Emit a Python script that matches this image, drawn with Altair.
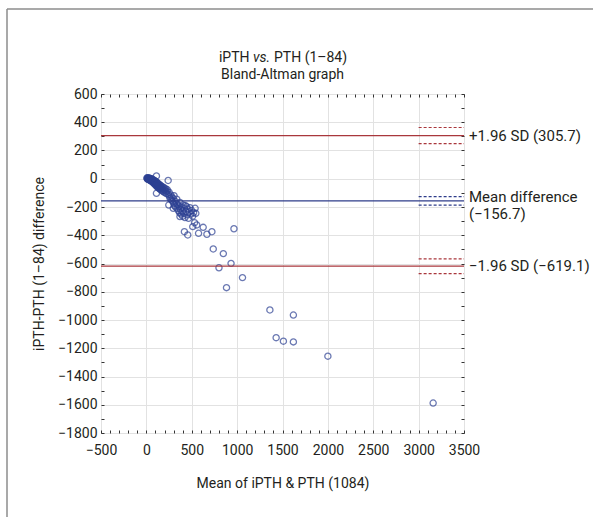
import altair as alt
import pandas as pd

# ---------------- data ----------------
mean_vals = [5, 10, 12, 15, 18, 20, 22, 25, 28, 30, 32, 35, 38, 40, 42, 45, 48, 50, 52, 55,
             58, 60, 62, 65, 68, 70, 72, 75, 78, 80, 82, 85, 88, 90, 92, 95, 98, 100, 102, 105,
             108, 110, 112, 115, 118, 120, 122, 125, 128, 130, 133, 136, 140, 143, 146, 150, 153, 156, 160, 164,
             168, 172, 176, 180, 185, 190, 195, 200, 205, 210, 215, 220, 226, 232,
             111, 240, 111, 247,
             240, 250, 255, 262, 270, 275, 282, 290, 296, 300, 305, 310, 318, 322, 330, 335, 340, 348, 352, 360,
             366, 370, 375, 382, 388, 395, 400, 405, 412, 418, 425, 430, 438, 444, 450, 458, 465, 470, 480, 490,
             500, 510, 520, 537, 545, 296, 370,
             419, 456, 511, 531, 555, 575, 626, 667, 722, 965, 737, 848, 933, 800, 1059, 883, 1361, 1430, 1510, 1620,
             1620, 2000, 3160]
diff_vals = [5, 3, -2, 8, 0, -5, 4, -3, 2, -8, 6, -4, -10, 2, -6, -12, -2, -15, -8, 0,
             -18, -10, -4, -20, -14, -6, -25, -16, -8, -30, -20, -12, -35, -24, -15, -40, -28, -18, -45, -32,
             -22, -50, -38, -26, -55, -42, -30, -60, -46, -35, -64, -52, -40, -70, -56, -45, -75, -62, -50, -80,
             -66, -55, -86, -72, -60, -92, -78, -66, -98, -84, -72, -105, -90, -78,
             20, -12, -103, -186,
             -110, -95, -125, -140, -115, -150, -130, -160, -140, -175, -120, -190, -160, -200, -175, -145, -210, -185, -225, -195,
             -240, -168, -215, -250, -200, -230, -265, -185, -245, -210, -275, -190, -230, -198, -255, -215, -280, -235, -205, -250,
             -225, -265, -240, -209, -245, -209, -268,
             -375, -398, -339, -311, -327, -386, -344, -393, -375, -354, -497, -530, -599, -630, -700, -771, -929, -1125, -1150, -1155,
             -965, -1256, -1588]

ref_values = [305.7, -156.7, -619.1]
ref_kind = ["sd", "mean", "sd"]

ci_values = [363, 249, -127, -187, -567, -671]
ci_kind = ["sd", "sd", "mean", "mean", "sd", "sd"]
ci_start = [3000, 3000, 3000, 3000, 3000, 3000]
ci_end = [3500, 3500, 3500, 3500, 3500, 3500]

sd_label_text = ["+1.96 SD (305.7)", "\u22121.96 SD (\u2212619.1)"]
sd_label_values = [305.7, -619.1]
mean_label_line1 = "Mean difference"
mean_label_line2 = "(\u2212156.7)"
mean_label_value = [-156.7]

x_ticks = [-500, 0, 500, 1000, 1500, 2000, 2500, 3000, 3500]
y_ticks = [-1800, -1600, -1400, -1200, -1000, -800, -600, -400, -200, 0, 200, 400, 600]
x_minor = list(range(-500, 3501, 100))
y_minor = list(range(-1800, 601, 100))

title_a = "iPTH"
title_b = "vs."
title_c = "PTH (1\u201384)"
title_2 = "Bland-Altman graph"
x_title = "Mean of iPTH & PTH (1084)"
y_title = "iPTH-PTH (1\u201384) difference"

# ---------------- style ----------------
W, H = 363, 339
FONT = "Roboto, DejaVu Sans Condensed, sans-serif"
FS = 14
TXT = "#231f20"
GRID = "#e2e2e2"
NAVY = "#2d4193"
BLUE = "#2e3c8a"
RED = "#a9373c"
DARK = "#333333"

xs = alt.Scale(domain=[-500, 3500], nice=False, zero=False)
ys = alt.Scale(domain=[-1800, 600], nice=False, zero=False)

pts_df = pd.DataFrame({"mean": mean_vals, "diff": diff_vals})
ref_df = pd.DataFrame({"v": ref_values, "kind": ref_kind})
ci_df = pd.DataFrame({"v": ci_values, "kind": ci_kind, "x0": ci_start, "x1": ci_end})
sdl_df = pd.DataFrame({"v": sd_label_values, "t": sd_label_text})
ml_df = pd.DataFrame({"v": mean_label_value})
one = pd.DataFrame({"a": [0]})

color_scale = alt.Scale(domain=["sd", "mean"], range=[RED, BLUE])

points = alt.Chart(pts_df).mark_point(
    shape="circle", filled=False, size=38, strokeWidth=1.3, color=NAVY
).encode(
    x=alt.X("mean:Q", scale=xs, axis=alt.Axis(
        orient="bottom", values=x_ticks, format="d", title=x_title,
        grid=True, gridColor=GRID, domain=False, ticks=False,
        labelPadding=10, labelFontSize=FS, labelFont=FONT, labelColor=TXT,
        labelFlush=False, labelOverlap=False,
        titleFontSize=FS, titleFont=FONT, titleFontWeight="normal", titleColor=TXT,
        titleX=W / 2, titleY=50, titleAlign="center", titleBaseline="middle")),
    y=alt.Y("diff:Q", scale=ys, axis=alt.Axis(
        orient="left", values=y_ticks, format="d", title=y_title,
        grid=True, gridColor=GRID, domain=False, ticks=False,
        labelPadding=4, labelFontSize=FS, labelFont=FONT, labelColor=TXT,
        labelFlush=False, labelOverlap=False,
        titleFontSize=FS, titleFont=FONT, titleFontWeight="normal", titleColor=TXT,
        titleX=-62, titleY=H / 2, titleAngle=270, titleAlign="center", titleBaseline="middle")),
)


def tick_layer(xo, yo):
    return alt.Chart(pts_df).mark_point(opacity=0).encode(
        x=alt.X("mean:Q", scale=xs, axis=alt.Axis(
            orient=xo, values=x_minor, labels=False, title=None, domain=False,
            grid=False, ticks=True, tickSize=3, offset=-3, tickColor=DARK)),
        y=alt.Y("diff:Q", scale=ys, axis=alt.Axis(
            orient=yo, values=y_minor, labels=False, title=None, domain=False,
            grid=False, ticks=True, tickSize=3, offset=-3, tickColor=DARK)),
    )


ticks_bl = tick_layer("bottom", "left")
ticks_tr = tick_layer("top", "right")

rules = alt.Chart(ref_df).mark_rule(strokeWidth=1.3).encode(
    y=alt.Y("v:Q", scale=ys, axis=None),
    color=alt.Color("kind:N", scale=color_scale, legend=None),
)

ci_rules = alt.Chart(ci_df).mark_rule(strokeWidth=1.2, strokeDash=[3, 2]).encode(
    x=alt.X("x0:Q", scale=xs, axis=None),
    x2="x1:Q",
    y=alt.Y("v:Q", scale=ys, axis=None),
    color=alt.Color("kind:N", scale=color_scale, legend=None),
)

LFS = 15
sd_labels = alt.Chart(sdl_df).mark_text(
    align="left", baseline="middle", font=FONT, fontSize=LFS, color=TXT
).encode(x=alt.value(W + 5), y=alt.Y("v:Q", scale=ys, axis=None), text="t:N")

mean_l1 = alt.Chart(ml_df).mark_text(
    align="left", baseline="middle", font=FONT, fontSize=LFS, color=TXT, dy=-4
).encode(x=alt.value(W + 5), y=alt.Y("v:Q", scale=ys, axis=None), text=alt.value(mean_label_line1))

mean_l2 = alt.Chart(ml_df).mark_text(
    align="left", baseline="middle", font=FONT, fontSize=LFS, color=TXT, dy=13
).encode(x=alt.value(W + 5), y=alt.Y("v:Q", scale=ys, axis=None), text=alt.value(mean_label_line2))

t_a = alt.Chart(one).mark_text(align="right", baseline="middle", font=FONT, fontSize=FS, color=TXT).encode(
    x=alt.value(148.5), y=alt.value(-36), text=alt.value(title_a))
t_b = alt.Chart(one).mark_text(align="left", baseline="middle", font=FONT, fontSize=FS, color=TXT,
                               fontStyle="italic").encode(
    x=alt.value(152), y=alt.value(-36), text=alt.value(title_b))
t_c = alt.Chart(one).mark_text(align="left", baseline="middle", font=FONT, fontSize=FS, color=TXT).encode(
    x=alt.value(173), y=alt.value(-36), text=alt.value(title_c))
t_2 = alt.Chart(one).mark_text(align="center", baseline="middle", font=FONT, fontSize=FS, color=TXT).encode(
    x=alt.value(W / 2), y=alt.value(-19), text=alt.value(title_2))

frame_left = alt.Chart(one).mark_rule(color="#8c8c8c", strokeWidth=1.5).encode(
    x=alt.value(7 - 101), y=alt.value(9 - 94), y2=alt.value(H + 120))
frame_top = alt.Chart(one).mark_rule(color="#8c8c8c", strokeWidth=1.5).encode(
    x=alt.value(7 - 101), x2=alt.value(W + 150), y=alt.value(9 - 94))

chart = alt.layer(
    points, ticks_bl, ticks_tr, rules, ci_rules, sd_labels, mean_l1, mean_l2,
    t_a, t_b, t_c, t_2, frame_left, frame_top
).resolve_scale(x="shared", y="shared").resolve_axis(
    x="independent", y="independent"
).properties(
    width=W, height=H,
    autosize=alt.AutoSizeParams(type="none"),
    padding={"left": 101, "top": 94, "right": 129, "bottom": 84},
    background="white",
).configure_view(stroke="#222222", strokeWidth=1)

chart.save("out.html", embed_options={"renderer": "svg", "actions": False})
